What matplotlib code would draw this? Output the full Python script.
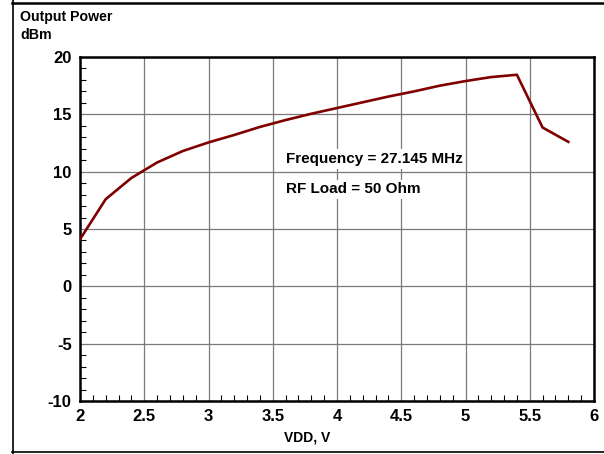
import matplotlib
matplotlib.use("Agg")
import matplotlib.pyplot as plt
from matplotlib.lines import Line2D
from matplotlib.ticker import MultipleLocator

vdd = [2.0, 2.2, 2.4, 2.6, 2.8, 3.0, 3.2, 3.4, 3.6, 3.8, 4.0, 4.2, 4.4, 4.6, 4.8, 5.0, 5.2, 5.4, 5.6, 5.8]
pout = [4.1, 7.6, 9.45, 10.8, 11.8, 12.55, 13.2, 13.9, 14.5, 15.05, 15.55, 16.05, 16.55, 17.0, 17.5, 17.9, 18.25, 18.45, 13.85, 12.6]
xticks = [2, 2.5, 3, 3.5, 4, 4.5, 5, 5.5, 6]
xticklabels = ["2", "2.5", "3", "3.5", "4", "4.5", "5", "5.5", "6"]
yticks = [-10, -5, 0, 5, 10, 15, 20]
yticklabels = ["-10", "-5", "0", "5", "10", "15", "20"]

plt.rcParams['font.family'] = ['Liberation Sans', 'DejaVu Sans']

fig = plt.figure(figsize=(6.04, 4.54), dpi=100)
ax = fig.add_axes([80/604, 1-401/454, (594-80)/604, (401-57)/454])

ax.plot(vdd, pout, color='#800000', lw=1.9, solid_joinstyle='round', zorder=3)
ax.set_xlim(2, 6)
ax.set_ylim(-10, 20)
ax.set_xticks(xticks)
ax.set_xticklabels(xticklabels)
ax.set_yticks(yticks)
ax.set_yticklabels(yticklabels)
ax.xaxis.set_minor_locator(MultipleLocator(0.1))
ax.yaxis.set_minor_locator(MultipleLocator(1))
ax.grid(True, which='major', color='#7a7a7a', lw=0.9)
ax.tick_params(which='major', length=0, pad=6)
ax.tick_params(which='minor', direction='in', length=4, width=0.8, color='black')
for lab in ax.get_xticklabels() + ax.get_yticklabels():
    lab.set_fontweight('bold')
    lab.set_fontsize(12)
for s in ax.spines.values():
    s.set_linewidth(1.8)

ax.set_xlabel("VDD, V", fontsize=10, fontweight='bold', labelpad=4)
ax.xaxis.set_label_coords((307-80)/514, -(437-401)/344)
ax.xaxis.label.set_va('center')

fig.text(20/604, 1-17/454, "Output Power", fontsize=10.2, fontweight='bold', va='center', ha='left')
fig.text(20/604, 1-35/454, "dBm", fontsize=10.2, fontweight='bold', va='center', ha='left')

bbox = dict(facecolor='white', edgecolor='none', pad=2)
ax.text(3.6, 11.1, "Frequency = 27.145 MHz", fontsize=11, fontweight='bold', va='center', ha='left', bbox=bbox, zorder=4)
ax.text(3.6, 8.45, "RF Load = 50 Ohm", fontsize=11, fontweight='bold', va='center', ha='left', bbox=bbox, zorder=4)

# figure border lines (top, left, bottom)
fig.add_artist(Line2D([12/604, 1], [1-2.5/454, 1-2.5/454], transform=fig.transFigure, color='black', lw=1.8))
fig.add_artist(Line2D([12.5/604, 12.5/604], [0, 1], transform=fig.transFigure, color='black', lw=1.2))
fig.add_artist(Line2D([12/604, 1], [1-451.5/454, 1-451.5/454], transform=fig.transFigure, color='black', lw=1.2))

fig.savefig("out.png", dpi=100)
